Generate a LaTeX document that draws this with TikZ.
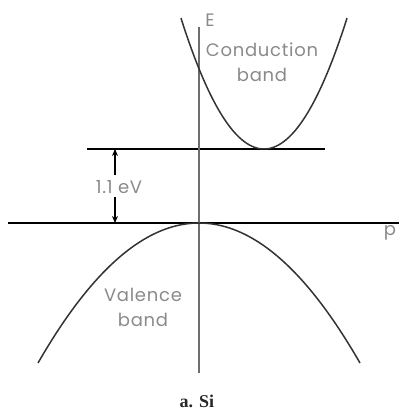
\documentclass[tikz,border=0pt]{standalone}
\usepackage{fontspec}
\setmainfont{Liberation Serif}
\newfontfamily\labfont{Poppins}[LetterSpace=4]
\usetikzlibrary{arrows.meta}
\definecolor{labgray}{HTML}{8A8A8A}
\definecolor{axisgray}{HTML}{6E6E6E}
\definecolor{curvegray}{HTML}{333333}
\tikzset{
  lab/.style={text=labgray, font=\labfont\fontsize{18}{25}\selectfont, inner sep=0pt, align=center},
  hline/.style={draw=black, line width=1.5pt},
  axisline/.style={draw=axisgray, line width=2.4pt},
  band/.style={draw=curvegray, line width=1.5pt},
  gaparrow/.style={draw=black, line width=1.2pt, -{Stealth[length=7pt,width=6pt]}},
}
\begin{document}
\begin{tikzpicture}[x=1pt,y=-1pt]
\useasboundingbox (0,0) rectangle (399,410);
% axes and levels
\draw[hline] (87,149) coordinate (cl) -- (325,149) coordinate (cr);
\draw[hline] (8,223) coordinate (vl) -- (399,223) coordinate (vr);
\draw[axisline] (199,27) coordinate (at) -- (199,373) coordinate (ab);
% bands
\draw[band] plot[domain=181:347, samples=80, smooth] ({\x},{149-0.019*(\x-264)*(\x-264)});
\draw[band] plot[domain=38:360, samples=80, smooth] ({\x},{223+0.0054*(\x-199)*(\x-199)});
% gap
\node[lab] (gap) at (119,187) {1.1 eV};
\coordinate (gt) at (115,149);
\coordinate (gb) at (115,223);
\draw[gaparrow] (115,175) -- (gt);
\draw[gaparrow] (115,197) -- (gb);
% labels
\node[lab] (E) at (210,20) {E};
\node[lab] (cb) at (262,62) {Conduction\\band};
\node[lab] (vb) at (143,307) {Valence\\band};
\node[lab] (p) at (390,233) {p};
\node[font=\bfseries\fontsize{18}{18}\selectfont, text=black!85, inner sep=0pt] (cap) at (197,401) {a. Si};
\end{tikzpicture}
\end{document}
